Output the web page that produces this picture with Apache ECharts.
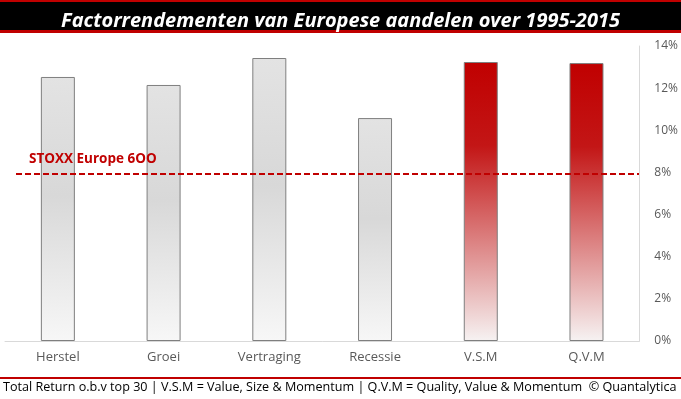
<!DOCTYPE html>
<html>
<head>
<meta charset="utf-8">
<script src="https://cdn.jsdelivr.net/npm/echarts@6/dist/echarts.min.js"></script>
<style>
html,body{margin:0;padding:0;background:#fff;}
#c{width:681px;height:399px;}
</style>
</head>
<body>
<div id="c"></div>
<script>
const categories = ['Herstel', 'Groei', 'Vertraging', 'Recessie', 'V.S.M', 'Q.V.M'];
const values = [12.53, 12.15, 13.43, 10.58, 13.24, 13.19];
const highlighted = [false, false, false, false, true, true];
const benchmarkValue = 7.93;
const benchmarkLabel = 'STOXX Europe 6OO';
const yTicks = [0, 2, 4, 6, 8, 10, 12, 14];
const titleText = 'Factorrendementen van Europese aandelen over 1995-2015';
const footerText = 'Total Return o.b.v top 30 | V.S.M = Value, Size & Momentum | Q.V.M = Quality, Value & Momentum  \u00A9 Quantalytica';

const FONT = '"Open Sans", "Noto Sans", sans-serif';

const grayFill = new echarts.graphic.LinearGradient(0, 0, 0, 1, [
  {offset: 0, color: '#e3e3e3'},
  {offset: 0.45, color: '#d8d8d8'},
  {offset: 1, color: '#f7f7f7'}
]);
const redFill = new echarts.graphic.LinearGradient(0, 0, 0, 1, [
  {offset: 0, color: '#c00000'},
  {offset: 0.3, color: '#c31616'},
  {offset: 1, color: '#f6f2f2'}
]);

const chart = echarts.init(document.getElementById('c'), null, {renderer: 'canvas'});
chart.setOption({
  animation: false,
  backgroundColor: '#ffffff',
  title: {
    text: titleText,
    left: 'center',
    top: 3,
    textStyle: {color: '#ffffff', fontFamily: FONT, fontStyle: 'italic', fontWeight: 'bold', fontSize: 20, lineHeight: 26}
  },
  graphic: [
    {type: 'rect', left: 0, top: 0, shape: {width: 681, height: 33}, style: {fill: '#c00000'}, z: -1},
    {type: 'rect', left: 0, top: 2, shape: {width: 681, height: 28}, style: {fill: '#000000'}, z: -1},
    {type: 'rect', left: 0, top: 377, shape: {width: 681, height: 2}, style: {fill: '#c00000'}},
    {type: 'text', left: 3, top: 381, style: {text: footerText, fill: '#000000', font: '12.6px ' + FONT}}
  ],
  grid: {left: 5, right: 40, top: 46, bottom: 58, containLabel: false},
  xAxis: {
    type: 'category',
    data: categories,
    axisLine: {show: true, lineStyle: {color: '#d9d9d9', width: 1}},
    axisTick: {show: false},
    axisLabel: {color: '#595959', fontFamily: FONT, fontSize: 13, margin: 10}
  },
  yAxis: {
    type: 'value',
    position: 'right',
    min: yTicks[0],
    max: yTicks[yTicks.length - 1],
    interval: 2,
    axisLine: {show: true, lineStyle: {color: '#d9d9d9', width: 1}},
    axisTick: {show: false},
    splitLine: {show: false},
    axisLabel: {color: '#595959', fontFamily: FONT, fontSize: 12, margin: 15, formatter: v => v + '%'}
  },
  series: [{
    type: 'bar',
    barWidth: 34,
    data: values.map((v, i) => ({
      value: v,
      itemStyle: {color: highlighted[i] ? redFill : grayFill, borderColor: '#7f7f7f', borderWidth: 1}
    })),
    markLine: {
      symbol: ['none', 'none'],
      silent: true,
      lineStyle: {color: '#c00000', type: [6, 3], width: 2},
      label: {
        show: true,
        position: 'insideStartTop',
        formatter: benchmarkLabel,
        color: '#c00000',
        fontFamily: FONT,
        fontWeight: 'bold',
        fontSize: 13.5,
        distance: [13, 8]
      },
      data: [[{x: 16, yAxis: benchmarkValue}, {x: 639, yAxis: benchmarkValue}]]
    }
  }]
});
</script>
</body>
</html>
